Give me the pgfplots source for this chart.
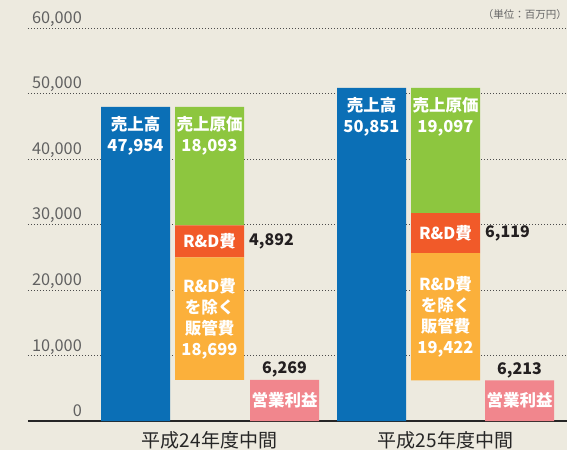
\documentclass[border=0pt]{standalone}
\usepackage{pgfplots}
\pgfplotsset{compat=1.18}
\usepackage{fontspec}
\setmainfont{Noto Sans CJK JP}
\definecolor{bg}{RGB}{237,234,223}
\definecolor{cblue}{RGB}{11,111,182}
\definecolor{cgreen}{RGB}{141,198,63}
\definecolor{cred}{RGB}{241,90,41}
\definecolor{corange}{RGB}{251,176,59}
\definecolor{cpink}{RGB}{241,134,141}
\definecolor{ctext}{RGB}{35,31,32}
\begin{document}
\begin{tikzpicture}
\fill[bg] (-28pt,-29pt) rectangle (539pt,421pt);
\begin{axis}[
  at={(0pt,0pt)}, anchor=south west,
  scale only axis, width=539pt, height=393pt,
  xmin=28, xmax=567, ymin=0, ymax=60000,
  ybar stacked, bar width=69,
  axis lines*=left,
  y axis line style={draw=none},
  x axis line style={draw=black!85, line width=1.2pt},
  major tick length=0pt,
  ytick={0,10000,20000,30000,40000,50000,60000},
  ymajorgrids,
  grid style={dash pattern=on 1pt off 2pt, line width=0.9pt, color=black!70},
  scaled y ticks=false,
  /pgf/number format/assume math mode=true,
  yticklabel style={/pgf/number format/fixed, /pgf/number format/1000 sep={,},
    anchor=base east, inner sep=0pt, xshift=54pt, yshift=4.5pt,
    font=\fontsize{16.3}{16}\selectfont, text=black!62},
  xtick={209.5,445.5},
  xticklabels={平成24年度中間,平成25年度中間},
  xticklabel style={anchor=north, inner sep=0pt, yshift=-10pt,
    font=\fontsize{19}{20}\selectfont, text=black!85},
  clip=false,
]
% invisible base
\addplot[draw=none, fill=none, forget plot] coordinates {(135.5,0) (209.5,6269) (284.5,0) (371.5,0) (445.5,6213) (519.5,0)};
% SG&A excl. R&D
\addplot[draw=none, fill=corange] coordinates {(135.5,0) (209.5,18699) (284.5,0) (371.5,0) (445.5,19422) (519.5,0)};
% R&D
\addplot[draw=none, fill=cred] coordinates {(135.5,0) (209.5,4892) (284.5,0) (371.5,0) (445.5,6119) (519.5,0)};
% COGS
\addplot[draw=none, fill=cgreen] coordinates {(135.5,0) (209.5,18093) (284.5,0) (371.5,0) (445.5,19097) (519.5,0)};
% Sales
\addplot[draw=none, fill=cblue] coordinates {(135.5,47954) (209.5,0) (284.5,0) (371.5,50851) (445.5,0) (519.5,0)};
% Operating income
\addplot[draw=none, fill=cpink] coordinates {(135.5,0) (209.5,0) (284.5,6269) (371.5,0) (445.5,0) (519.5,6213)};

% label anchors
\coordinate (s1) at (axis cs:135.5,43524);
\coordinate (c1) at (axis cs:209.5,43524);
\coordinate (r1) at (axis cs:209.5,27414);
\coordinate (rv1) at (axis cs:249,27414);
\coordinate (g1) at (axis cs:209.5,15618);
\coordinate (pv1) at (axis cs:284.5,6269);
\coordinate (p1) at (axis cs:284.5,3134);
\coordinate (s2) at (axis cs:371.5,46421);
\coordinate (c2) at (axis cs:445.5,46421);
\coordinate (r2) at (axis cs:445.5,28695);
\coordinate (rv2) at (axis cs:485,28695);
\coordinate (g2) at (axis cs:445.5,15924);
\coordinate (pv2) at (axis cs:519.5,6213);
\coordinate (p2) at (axis cs:519.5,3107);
\coordinate (unit) at (axis cs:567,60000);
\end{axis}
\tikzset{inlab/.style={text=white, font=\bfseries\fontsize{16.5}{21}\selectfont, align=center, inner sep=0pt},
         outlab/.style={text=ctext, font=\bfseries\fontsize{16}{18}\selectfont, inner sep=0pt}}
% group 1
\node[inlab] at (s1) {売上高\\47,954};
\node[inlab] at (c1) {売上原価\\18,093};
\node[inlab] at (r1) {R\&D費};
\node[outlab, anchor=west] at (rv1) {4,892};
\node[inlab] at (g1) {R\&D費\\を除く\\販管費\\18,699};
\node[outlab, anchor=base] at ([yshift=6pt]pv1) {6,269};
\node[inlab] at (p1) {営業利益};
% group 2
\node[inlab] at (s2) {売上高\\50,851};
\node[inlab] at (c2) {売上原価\\19,097};
\node[inlab] at (r2) {R\&D費};
\node[outlab, anchor=west] at (rv2) {6,119};
\node[inlab] at (g2) {R\&D費\\を除く\\販管費\\19,422};
\node[outlab, anchor=base] at ([yshift=6pt]pv2) {6,213};
\node[inlab] at (p2) {営業利益};
% unit
\node[anchor=base east, inner sep=0pt, text=black!60, font=\fontsize{10.5}{12}\selectfont] at ([yshift=9pt]unit) {（単位：百万円）};
\pgfresetboundingbox
\path[use as bounding box] (-28pt,-29pt) rectangle (539pt,421pt);
\end{tikzpicture}
\end{document}
